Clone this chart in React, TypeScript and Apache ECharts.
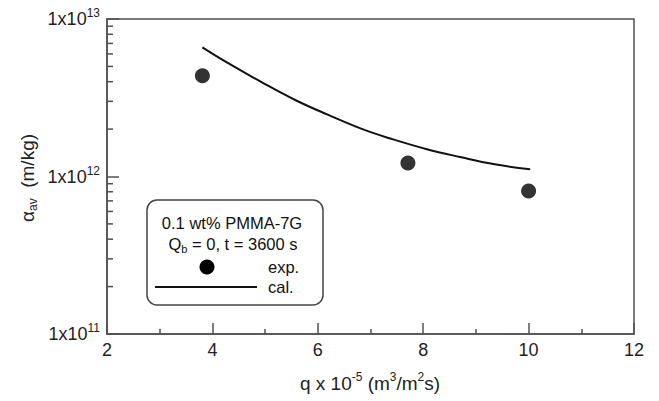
import React, { useEffect, useRef } from "react";
import * as echarts from "echarts";

const xMin = 2;
const xMax = 12;
const xInterval = 2;
const yMin = 1e11;
const yMax = 1e13;

const expQ = [3.81, 7.71, 10.0];
const expAlpha = [4.36e12, 1.22e12, 8.1e11];

const calQ = [3.81, 4.3, 4.94, 5.57, 6.2, 6.86, 7.43, 8.07, 8.7, 9.33, 10.03];
const calAlpha = [6.61e12, 5.24e12, 3.96e12, 3.06e12, 2.46e12, 1.99e12, 1.72e12, 1.49e12, 1.33e12, 1.2e12, 1.11e12];

const minorYTicks = [
  2e11, 3e11, 4e11, 5e11, 6e11, 7e11, 8e11, 9e11,
  2e12, 3e12, 4e12, 5e12, 6e12, 7e12, 8e12, 9e12,
];

const legendTitle1 = "0.1 wt% PMMA-7G";
const legendExp = "exp.";
const legendCal = "cal.";

const FONT = "Liberation Sans, Arial, sans-serif";
const AXIS_COLOR = "#505050";

export default function App() {
  const ref = useRef<HTMLDivElement>(null);

  useEffect(() => {
    if (!ref.current) return;
    const chart = echarts.init(ref.current, undefined, { renderer: "svg" });

    const option: any = {
      animation: false,
      backgroundColor: "#fff",
      textStyle: { fontFamily: FONT },
      grid: {
        left: 107,
        top: 19,
        right: 25,
        bottom: 67,
        show: true,
        borderColor: AXIS_COLOR,
        borderWidth: 1.5,
        backgroundColor: "transparent",
      },
      xAxis: {
        type: "value",
        min: xMin,
        max: xMax,
        interval: xInterval,
        axisLine: { show: true, lineStyle: { color: AXIS_COLOR, width: 1.5 } },
        axisTick: { show: true, inside: true, length: 11, lineStyle: { color: AXIS_COLOR, width: 1.5 } },
        minorTick: { show: true, splitNumber: 2, length: 5, lineStyle: { color: AXIS_COLOR, width: 1.5 } },
        splitLine: { show: false },
        axisLabel: { fontSize: 18, color: "#222", margin: 7, fontFamily: FONT },
      },
      yAxis: {
        type: "log",
        logBase: 10,
        min: yMin,
        max: yMax,
        axisLine: { show: true, lineStyle: { color: AXIS_COLOR, width: 1.5 } },
        axisTick: { show: true, inside: true, length: 12, lineStyle: { color: AXIS_COLOR, width: 1.5 } },
        splitLine: { show: false },
        axisLabel: {
          margin: 7,
          formatter: (v: number) => {
            const e = Math.round(Math.log10(v));
            return `{a|1x10}{b|${e}}`;
          },
          rich: {
            a: { fontSize: 18, color: "#222", fontFamily: FONT, lineHeight: 24 },
            b: { fontSize: 12, color: "#222", fontFamily: FONT, verticalAlign: "top", lineHeight: 12 },
          },
        },
      },
      series: [
        {
          type: "custom",
          silent: true,
          renderItem: (params: any, api: any) => {
            const p = api.coord([api.value(0), api.value(1)]);
            return {
              type: "line",
              shape: { x1: p[0], y1: p[1], x2: p[0] + 6, y2: p[1] },
              style: { stroke: AXIS_COLOR, lineWidth: 1.5 },
            };
          },
          data: minorYTicks.map((v) => [xMin, v]),
          z: 5,
        },
        {
          type: "line",
          smooth: 0.4,
          showSymbol: false,
          symbol: "none",
          lineStyle: { color: "#111", width: 2 },
          data: calQ.map((q, i) => [q, calAlpha[i]]),
        },
        {
          type: "scatter",
          symbol: "circle",
          symbolSize: 15,
          itemStyle: { color: "#000" },
          data: expQ.map((q, i) => [q, expAlpha[i]]),
        },
      ],
      graphic: [
        {
          type: "text",
          x: 370,
          y: 383,
          style: {
            text: "{a|q x 10}{b|-5}{a| (m}{b|3}{a|/m}{b|2}{a|s)}",
            align: "center",
            verticalAlign: "middle",
            rich: {
              a: { fontSize: 19, fill: "#222", fontFamily: FONT, lineHeight: 24 },
              b: { fontSize: 12, fill: "#222", fontFamily: FONT, verticalAlign: "top", lineHeight: 12 },
            },
          },
        },
        {
          type: "text",
          x: 27,
          y: 178,
          rotation: Math.PI / 2,
          style: {
            text: "{a|α}{b|av}{a|  (m/kg)}",
            align: "center",
            verticalAlign: "middle",
            rich: {
              a: { fontSize: 19, fill: "#222", fontFamily: FONT, lineHeight: 24 },
              b: { fontSize: 12, fill: "#222", fontFamily: FONT, verticalAlign: "bottom", lineHeight: 12 },
            },
          },
        },
        {
          type: "rect",
          shape: { x: 147, y: 200, width: 176, height: 105, r: 10 },
          style: { fill: "#fff", stroke: "#444", lineWidth: 1.5 },
          z: 10,
        },
        {
          type: "text",
          x: 232,
          y: 223,
          z: 11,
          style: {
            text: legendTitle1,
            align: "center",
            verticalAlign: "middle",
            fontSize: 16.5,
            fontFamily: FONT,
            fill: "#111",
          },
        },
        {
          type: "text",
          x: 233,
          y: 244,
          z: 11,
          style: {
            text: "{a|Q}{b|b}{a| = 0, t = 3600 s}",
            align: "center",
            verticalAlign: "middle",
            rich: {
              a: { fontSize: 16.5, fill: "#111", fontFamily: FONT, lineHeight: 20 },
              b: { fontSize: 11, fill: "#111", fontFamily: FONT, verticalAlign: "bottom", lineHeight: 11 },
            },
          },
        },
        {
          type: "circle",
          shape: { cx: 207, cy: 267, r: 7.5 },
          style: { fill: "#000" },
          z: 11,
        },
        {
          type: "text",
          x: 268,
          y: 267,
          z: 11,
          style: { text: legendExp, align: "left", verticalAlign: "middle", fontSize: 16.5, fontFamily: FONT, fill: "#111" },
        },
        {
          type: "line",
          shape: { x1: 155, y1: 287, x2: 257, y2: 287 },
          style: { stroke: "#111", lineWidth: 2 },
          z: 11,
        },
        {
          type: "text",
          x: 268,
          y: 287,
          z: 11,
          style: { text: legendCal, align: "left", verticalAlign: "middle", fontSize: 16.5, fontFamily: FONT, fill: "#111" },
        },
      ],
    };

    chart.setOption(option);
    return () => chart.dispose();
  }, []);

  return (
    <div
      ref={ref}
      style={{ position: "fixed", left: 0, top: 0, width: 659, height: 401, background: "#fff" }}
    />
  );
}
